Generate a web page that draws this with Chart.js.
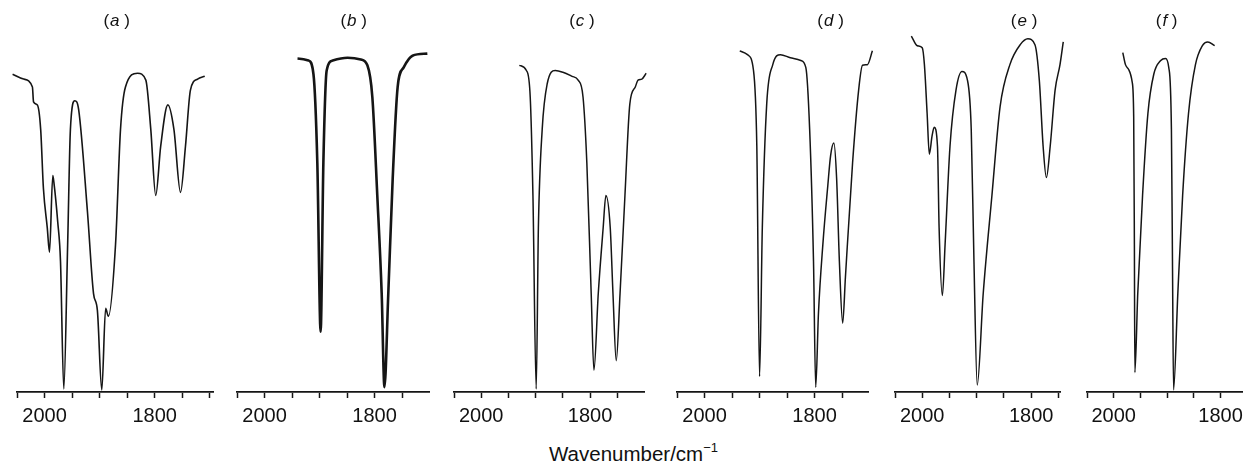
<!DOCTYPE html>
<html>
<head>
<meta charset="utf-8">
<script src="https://cdn.jsdelivr.net/npm/chart.js@4.4.0/dist/chart.umd.min.js"></script>
<style>
  html, body { margin: 0; padding: 0; background: #fff; }
  body { width: 1243px; height: 464px; position: relative; overflow: hidden; font-family: "Liberation Sans", Arial, sans-serif; }
  canvas.panel { position: absolute; top: 0; }
  #xlabel { position: absolute; left: 549px; top: 442px; font-size: 20.5px; line-height: 24px; color: #111; white-space: nowrap; }
  #xlabel sup { font-size: 13px; vertical-align: 9px; line-height: 0; }
</style>
</head>
<body>
<div id="xlabel">Wavenumber/cm<sup>−1</sup></div>
<script>
// IR spectra, wavenumber (cm-1) vs transmittance (arbitrary units, 0 = axis)
const wnA = [2058, 2038, 2022, 2020, 2013, 2007, 2002, 1995, 1991, 1985, 1983, 1976, 1971, 1965, 1958, 1953, 1945, 1938, 1922, 1911, 1904, 1896, 1889, 1884, 1871, 1862, 1853, 1831, 1816, 1807, 1798, 1789, 1776, 1765, 1753, 1744, 1735, 1722, 1709];
const tA = [92.3, 90.9, 88.6, 84.3, 83.4, 76.3, 59.1, 47.7, 40.6, 62.9, 60.9, 49.4, 38, 0.9, 42.9, 76.3, 84.6, 82, 52.3, 28.6, 23.7, 0.6, 24.3, 22, 42.9, 76.3, 88.6, 92.6, 90.6, 76.3, 57.1, 71.4, 83.4, 76.3, 58, 71.4, 87.7, 90.9, 91.7];

const wnB = [1940, 1920, 1911, 1904, 1898, 1893, 1887, 1876, 1849, 1825, 1813, 1804, 1795, 1787, 1782, 1775, 1767, 1758, 1747, 1731, 1704];
const tB = [96.9, 96.3, 92.3, 66.6, 17.5, 66.6, 93.4, 96.3, 97.1, 96.6, 94.9, 85.7, 57.1, 28.6, 1.4, 28.6, 62, 88.6, 94.3, 97.7, 98.3];

const wnC = [1930, 1917, 1910, 1905, 1899, 1895, 1888, 1879, 1864, 1850, 1833, 1822, 1813, 1806, 1798, 1793, 1785, 1776, 1771, 1763, 1758, 1752, 1745, 1736, 1727, 1717, 1712, 1705, 1697];
const tC = [94.9, 93.4, 85.7, 57.1, 0.9, 47.7, 76.3, 89.4, 93.4, 92.9, 91.7, 90.6, 85.7, 66.6, 28.6, 6.3, 28.6, 47.7, 57.1, 47.7, 28.6, 9.1, 28.6, 57.1, 83.7, 88.6, 90.6, 90.9, 92.6];

const wnD = [1936, 1922, 1911, 1905, 1900, 1895, 1887, 1876, 1862, 1844, 1825, 1816, 1809, 1802, 1798, 1793, 1785, 1776, 1771, 1765, 1760, 1755, 1749, 1744, 1731, 1720, 1713, 1704, 1695];
const tD = [99.1, 98, 93.4, 71.4, 4.5, 47.7, 83.7, 95.1, 98, 97.1, 96.3, 94.3, 76.3, 38, 1.4, 22.9, 42.9, 60, 68.6, 72.3, 62, 38, 20, 33.4, 66.6, 87.7, 94.9, 95.1, 99.1];

const wnE = [2020, 2009, 2000, 1996, 1991, 1987, 1982, 1978, 1972, 1969, 1963, 1958, 1949, 1938, 1927, 1917, 1910, 1905, 1899, 1888, 1872, 1857, 1839, 1820, 1806, 1793, 1785, 1778, 1772, 1765, 1756, 1747, 1741];
const tE = [103.4, 100.6, 100, 95.1, 80.9, 69.1, 74.3, 76.9, 71.4, 47.7, 28, 42.9, 71.4, 87.7, 93.1, 90.6, 76.3, 38, 2, 28.6, 57.1, 82.9, 95.1, 100.9, 102.6, 100.9, 90.6, 71.4, 62.3, 71.4, 87.7, 95.1, 101.7];

const wnF = [1983, 1978, 1972, 1965.4, 1962.6, 1961.3, 1960.4, 1955, 1946, 1936, 1925, 1912, 1903, 1897, 1892, 1890, 1888, 1880, 1871, 1860, 1847, 1834, 1824, 1811];
const tF = [98.6, 95.1, 93.7, 90, 80, 42.9, 5.7, 28.6, 57.1, 80.9, 92.3, 96.3, 96.9, 94.3, 76.3, 38, 0.6, 28.6, 57.1, 80.9, 95.1, 100.6, 101.7, 100.6];

const panelLetters = ['a', 'b', 'c', 'd', 'e', 'f'];
const tickValues = [2050, 2000, 1950, 1900, 1850, 1800, 1750, 1700];
const tickLabels = [2000, 1800];

// where each panel's axis sits on the page, and its wavenumber range
const panels = [
  { wn: wnA, t: tA, left: 17,   right: 213,  max: 2050, min: 1694, titleAt: 1869, width: 1.6 },
  { wn: wnB, t: tB, left: 237,  right: 429,  max: 2050, min: 1701, titleAt: 1838, width: 2.6 },
  { wn: wnC, t: tC, left: 454,  right: 644,  max: 2050, min: 1701, titleAt: 1815, width: 1.5 },
  { wn: wnD, t: tD, left: 677,  right: 868,  max: 2050, min: 1703, titleAt: 1771, width: 1.5 },
  { wn: wnE, t: tE, left: 895,  right: 1060, max: 2050, min: 1747, titleAt: 1813, width: 1.5 },
  { wn: wnF, t: tF, left: 1087, right: 1243, max: 2050, min: 1758, titleAt: 1901, width: 1.5 }
];

const MARGIN = 30;
const FONT = '"Liberation Sans", Arial, sans-serif';

// draws "(a )" with an italic letter above each spectrum
const panelTitle = {
  id: 'panelTitle',
  afterDraw(chart, args, opts) {
    const ctx = chart.ctx;
    const x = chart.scales.x.getPixelForValue(opts.at);
    const up = '17px ' + FONT;
    const it = 'italic 17px ' + FONT;
    ctx.save();
    ctx.fillStyle = '#111';
    ctx.textBaseline = 'middle';
    ctx.textAlign = 'left';
    ctx.font = up;
    const wl = ctx.measureText('(').width;
    const wr = ctx.measureText(' )').width;
    ctx.font = it;
    const wm = ctx.measureText(opts.letter).width + 1;
    const sx = x - (wl + wm + wr) / 2;
    ctx.font = up;
    ctx.fillText('(', sx, opts.y);
    ctx.font = it;
    ctx.fillText(opts.letter, sx + wl + 1, opts.y);
    ctx.font = up;
    ctx.fillText(' )', sx + wl + wm, opts.y);
    ctx.restore();
  }
};

panels.forEach((p, i) => {
  const canvas = document.createElement('canvas');
  canvas.className = 'panel';
  const w = p.right - p.left + 2 * MARGIN;
  canvas.width = w;
  canvas.height = 464;
  canvas.style.left = (p.left - MARGIN) + 'px';
  canvas.style.width = w + 'px';
  canvas.style.height = '464px';
  document.body.appendChild(canvas);

  new Chart(canvas.getContext('2d'), {
    type: 'line',
    data: {
      datasets: [{
        data: p.wn.map((v, k) => ({ x: v, y: p.t[k] })),
        borderColor: '#151515',
        borderWidth: p.width,
        pointRadius: 0,
        cubicInterpolationMode: 'monotone',
        clip: false,
        fill: false
      }]
    },
    options: {
      responsive: false,
      animation: false,
      devicePixelRatio: 1,
      layout: { padding: { left: MARGIN, right: MARGIN, top: 34, bottom: 30 } },
      plugins: {
        legend: { display: false },
        tooltip: { enabled: false },
        panelTitle: { letter: panelLetters[i], at: p.titleAt, y: 21 }
      },
      scales: {
        x: {
          type: 'linear',
          reverse: true,
          min: p.min,
          max: p.max,
          afterBuildTicks: (axis) => {
            axis.ticks = tickValues.filter(v => v >= p.min && v <= p.max).map(v => ({ value: v }));
          },
          border: { display: true, color: '#151515', width: 1.8 },
          grid: { drawOnChartArea: false, drawTicks: true, tickLength: 6, tickColor: '#151515', tickWidth: 1.5 },
          ticks: {
            autoSkip: false,
            maxRotation: 0,
            padding: 6,
            color: '#111',
            font: { family: FONT, size: 20 },
            callback: (v) => tickLabels.includes(v) ? String(v) : ''
          }
        },
        y: { display: false, min: 0, max: 104 }
      }
    },
    plugins: [panelTitle]
  });
});
</script>
</body>
</html>
